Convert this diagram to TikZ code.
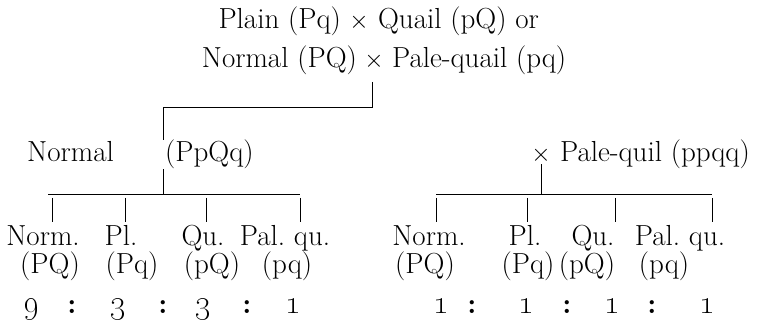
\documentclass[tikz,border=0pt]{standalone}
\usetikzlibrary{calc, positioning}

\begin{document}
\begin{tikzpicture}[x=1pt, y=-1pt,
  txt/.style={font=\fontsize{29}{34}\selectfont, inner sep=0pt, anchor=base},
  lbl/.style={txt, outer sep=4pt},
  tree/.style={line width=0.8pt}]
\useasboundingbox (0,0) rectangle (758,323);

% parents
\node[txt] (xa) at (359,29) {$\times$};
\node[txt, base left=8pt of xa] (pa) {Plain (Pq)};
\node[txt, base right=9pt of xa] (qa) {Quail (pQ) or};
\node[txt] (xb) at (374,68) {$\times$};
\node[txt, base left=7pt of xb] (pb) {Normal (PQ)};
\node[txt, base right=8pt of xb] (qb) {Pale-quail (pq)};

% first cross
\node[txt, anchor=base west] (fa) at (27,162) {Normal};
\node[txt, anchor=base west] (fb) at (165,162) {(PpQq)};
\node[txt] (xc) at (541,162) {$\times$};
\node[txt, base right=9pt of xc] (pc) {Pale-quil (ppqq)};

\coordinate (ta) at (372,82);
\coordinate (tb) at (372,107);
\coordinate (tc) at (163,107);
\coordinate (ba) at (48,194);
\coordinate (bb) at (300,194);
\coordinate (bc) at (436,194);
\coordinate (bd) at (712,194);

\draw[tree] (ta) -- (tb) -- (tc) -- (tc |- fb.north);
\draw[tree] (tc |- fb.south) -- (tc |- ba);
\draw[tree] (ba) -- (bb);
\draw[tree] (xc.south) -- (xc.south |- bc);
\draw[tree] (bc) -- (bd);

% offspring, left
\node[lbl] (n1) at (43,246) {Norm.};
\node[lbl] (n2) at (121,246) {Pl.};
\node[lbl] (n3) at (203,246) {Qu.};
\node[lbl] (n4) at (285,246) {Pal.\ qu.};
\node[txt] (g1) at (50,274) {(PQ)};
\node[txt] (g2) at (132,274) {(Pq)};
\node[txt] (g3) at (212,274) {(pQ)};
\node[txt] (g4) at (287,274) {(pq)};

% offspring, right
\node[lbl] (n5) at (429,246) {Norm.};
\node[lbl] (n6) at (525,246) {Pl.};
\node[lbl] (n7) at (593,246) {Qu.};
\node[lbl] (n8) at (680,246) {Pal.\ qu.};
\node[txt] (g5) at (425,274) {(PQ)};
\node[txt] (g6) at (528,274) {(Pq)};
\node[txt] (g7) at (587,274) {(pQ)};
\node[txt] (g8) at (664,274) {(pq)};

\coordinate (d1) at (52,198);
\coordinate (d2) at (125,198);
\coordinate (d3) at (206,198);
\coordinate (d4) at (300,198);
\coordinate (d5) at (436,198);
\coordinate (d6) at (527,198);
\coordinate (d7) at (615,198);
\coordinate (d8) at (712,198);

\draw[tree] (d1) -- (d1 |- n1.north);
\draw[tree] (d2) -- (d2 |- n2.north);
\draw[tree] (d3) -- (d3 |- n3.north);
\draw[tree] (d4) -- (d4 |- n4.north);
\draw[tree] (d5) -- (d5 |- n5.north);
\draw[tree] (d6) -- (d6 |- n6.north);
\draw[tree] (d7) -- (d7 |- n7.north);
\draw[tree] (d8) -- (d8 |- n8.north);

% ratios
\node[txt] (r1) at (31,313) {\scalebox{1.15}{\oldstylenums{9}}};
\node[txt] (r2) at (72,313) {\textbf{:}};
\node[txt] (r3) at (118,313) {\scalebox{1.15}{\oldstylenums{3}}};
\node[txt] (r4) at (163,313) {\textbf{:}};
\node[txt] (r5) at (203,313) {\scalebox{1.15}{\oldstylenums{3}}};
\node[txt] (r6) at (247,313) {\textbf{:}};
\node[txt] (r7) at (293,313) {\scalebox{1.15}{\oldstylenums{1}}};

\node[txt] (s1) at (441,313) {\scalebox{1.15}{\oldstylenums{1}}};
\node[txt] (s2) at (472,313) {\textbf{:}};
\node[txt] (s3) at (526,313) {\scalebox{1.15}{\oldstylenums{1}}};
\node[txt] (s4) at (567,313) {\textbf{:}};
\node[txt] (s5) at (612,313) {\scalebox{1.15}{\oldstylenums{1}}};
\node[txt] (s6) at (652,313) {\textbf{:}};
\node[txt] (s7) at (707,313) {\scalebox{1.15}{\oldstylenums{1}}};
\end{tikzpicture}
\end{document}
